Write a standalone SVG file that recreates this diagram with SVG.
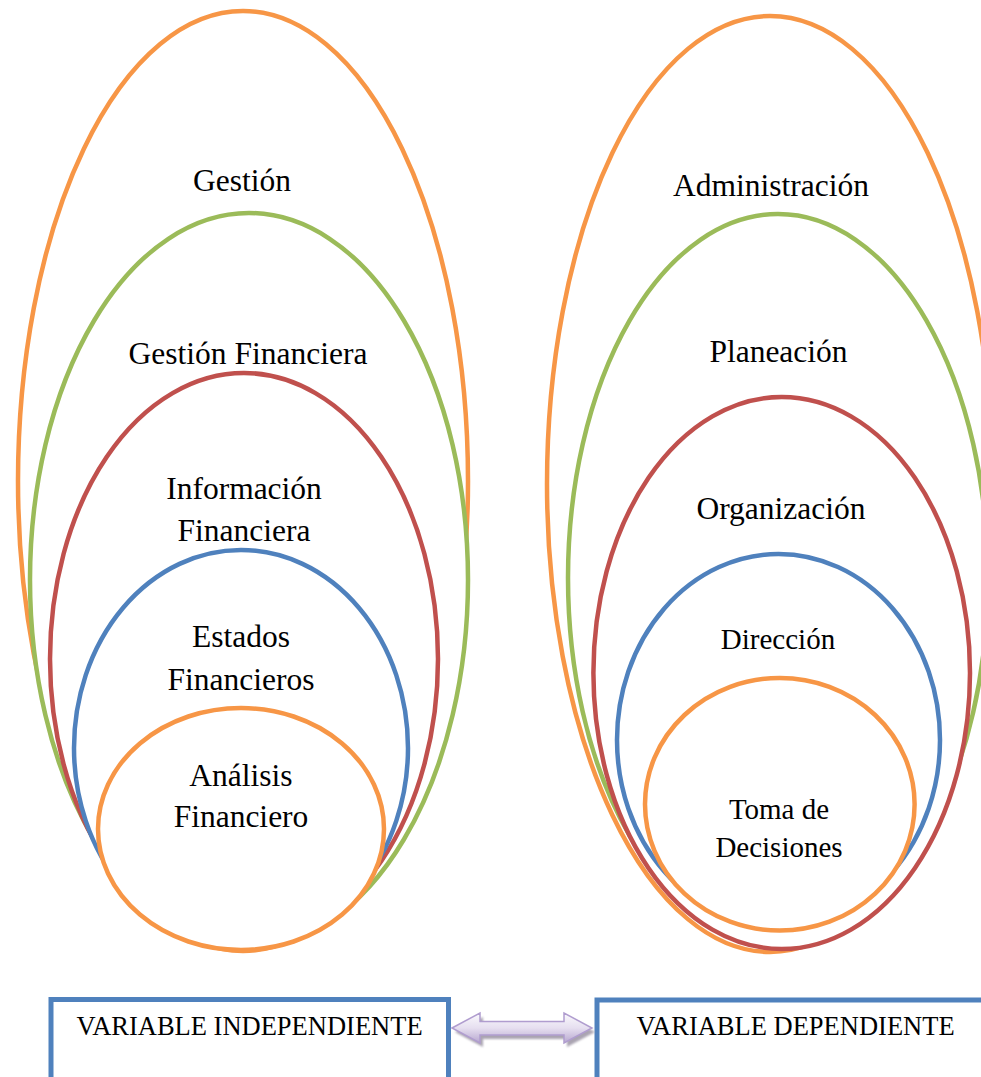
<svg xmlns="http://www.w3.org/2000/svg" width="981" height="1077" viewBox="0 0 981 1077">
  <defs>
    <style>
      .e { fill: #ffffff; stroke-width: 4.5; }
      .or { stroke: #F79646; }
      .gr { stroke: #9BBB59; }
      .rd { stroke: #C0504D; }
      .bl { stroke: #4F81BD; }
      .t { font-family: "Liberation Serif", "Times New Roman", serif; font-size: 31.5px; fill: #000000; text-anchor: middle; }
      .ts { font-size: 29px; }
      .tb { font-size: 26.5px; }
      .box { fill: #ffffff; stroke: #4F81BD; stroke-width: 5; }
    </style>
    <linearGradient id="arrowFill" x1="0" y1="0" x2="0" y2="1">
      <stop offset="0" stop-color="#FBFAFD"/>
      <stop offset="0.5" stop-color="#E6DFF0"/>
      <stop offset="1" stop-color="#B7A7CF"/>
    </linearGradient>
    <filter id="shadow" x="-10%" y="-30%" width="120%" height="160%">
      <feGaussianBlur stdDeviation="1.2"/>
    </filter>
  </defs>

  <!-- Left stack -->
  <g id="gestion">
    <ellipse class="e or" cx="243" cy="481" rx="225" ry="470"/>
    <text class="t" x="242" y="191">Gestión</text>
  </g>
  <g id="gestion-financiera">
    <ellipse class="e gr" cx="249" cy="580" rx="219" ry="367"/>
    <text class="t" x="248" y="364">Gestión Financiera</text>
  </g>
  <g id="informacion-financiera">
    <ellipse class="e rd" cx="244" cy="659" rx="194" ry="286"/>
    <text class="t" x="244" y="499">Información</text>
    <text class="t" x="244" y="541">Financiera</text>
  </g>
  <g id="estados-financieros">
    <ellipse class="e bl" cx="241" cy="748" rx="167" ry="198"/>
    <text class="t" x="241" y="647">Estados</text>
    <text class="t" x="241" y="690">Financieros</text>
  </g>
  <g id="analisis-financiero">
    <ellipse class="e or" cx="241" cy="829" rx="143" ry="121"/>
    <text class="t" x="241" y="786">Análisis</text>
    <text class="t" x="241" y="827">Financiero</text>
  </g>

  <!-- Right stack -->
  <g id="administracion">
    <ellipse class="e or" cx="770" cy="484" rx="223" ry="468"/>
    <text class="t" x="771" y="196">Administración</text>
  </g>
  <g id="planeacion">
    <ellipse class="e gr" cx="778" cy="578" rx="210" ry="364"/>
    <text class="t" x="778.5" y="362">Planeación</text>
  </g>
  <g id="organizacion">
    <ellipse class="e rd" cx="781.7" cy="673" rx="188.3" ry="276"/>
    <text class="t" x="781" y="519">Organización</text>
  </g>
  <g id="direccion">
    <ellipse class="e bl" cx="778.5" cy="740" rx="161.5" ry="186"/>
    <text class="t ts" x="778" y="649">Dirección</text>
  </g>
  <g id="toma-de-decisiones">
    <ellipse class="e or" cx="779.8" cy="804.3" rx="134.8" ry="126.3"/>
    <text class="t ts" x="779" y="819">Toma de</text>
    <text class="t ts" x="779" y="857">Decisiones</text>
  </g>

  <!-- Bottom boxes -->
  <g id="variable-independiente">
    <rect class="box" x="51" y="999.5" width="397.5" height="80"/>
    <text class="t tb" x="249.5" y="1035">VARIABLE INDEPENDIENTE</text>
  </g>
  <g id="variable-dependiente">
    <rect class="box" x="597" y="1000" width="398" height="80"/>
    <text class="t tb" x="795.5" y="1035">VARIABLE DEPENDIENTE</text>
  </g>

  <!-- Connectors -->
  <g id="connectors">
    <path d="M452,1028 L480,1013 L480,1021.5 L564,1021.5 L564,1013 L592,1028 L564,1043 L564,1035 L480,1035 L480,1043 Z" fill="#8E8698" opacity="0.75" transform="translate(3,4)" filter="url(#shadow)"/>
    <path d="M452,1028 L480,1013 L480,1021.5 L564,1021.5 L564,1013 L592,1028 L564,1043 L564,1035 L480,1035 L480,1043 Z" fill="url(#arrowFill)" stroke="#B09DCF" stroke-width="1.5" stroke-linejoin="miter"/>
  </g>
</svg>
